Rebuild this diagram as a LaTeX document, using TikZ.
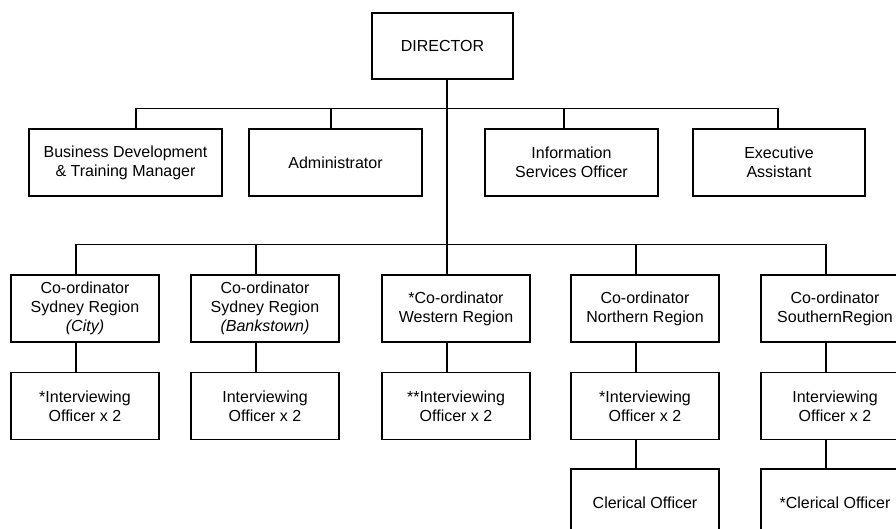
\documentclass[tikz,border=0pt]{standalone}
\usepackage{fontspec}
\setmainfont{Liberation Sans}
\usetikzlibrary{positioning}

\tikzset{
  post/.style={draw, line width=1.3pt, align=center, inner sep=0pt,
    font=\fontsize{16}{19}\selectfont},
  postw/.style={post, minimum width=148, minimum height=67},
  link/.style={line width=1.3pt}
}

\begin{document}
\begin{tikzpicture}[x=1pt,y=-1pt]
\useasboundingbox (0,0) rectangle (896,528);

% top
\node[post, minimum width=141, minimum height=66] (director) at (442.5,46) {DIRECTOR};

% staff row
\node[post, minimum width=193, minimum height=67] (bdtm) at (125.5,162.5) {Business Development\\\& Training Manager};
\node[post, minimum width=173, minimum height=67] (admin) at (335.5,162.5) {Administrator};
\node[post, minimum width=173, minimum height=67] (iso) at (571.5,162.5) {Information\\Services Officer};
\node[post, minimum width=172, minimum height=67] (exec) at (779,162.5) {Executive\\Assistant};

% co-ordinators
\node[postw] (co1) at (85,308.5) {Co-ordinator\\Sydney Region\\\textit{(City)}};
\node[postw] (co2) at (265,308.5) {Co-ordinator\\Sydney Region\\\textit{(Bankstown)}};
\node[postw] (co3) at (456,308.5) {*Co-ordinator\\Western Region};
\node[postw] (co4) at (645,308.5) {Co-ordinator\\Northern Region};
\node[postw] (co5) at (835,308.5) {Co-ordinator\\SouthernRegion};

% interviewing officers
\node[postw] (io1) at (85,406) {*Interviewing\\Officer x 2};
\node[postw] (io2) at (265,406) {Interviewing\\Officer x 2};
\node[postw] (io3) at (456,406) {**Interviewing\\Officer x 2};
\node[postw] (io4) at (645,406) {*Interviewing\\Officer x 2};
\node[postw] (io5) at (835,406) {Interviewing\\Officer x 2};

% clerical
\node[postw] (cl4) at (645,502.5) {Clerical Officer};
\node[postw] (cl5) at (835,502.5) {*Clerical Officer};

% connectors
\draw[link] ([xshift=4.5]director.south) -- ([xshift=-9]co3.north);
\draw[link] ([xshift=10.5]bdtm.north) -- ++(0,-20) -| ([xshift=-1]exec.north);
\draw[link] ([xshift=-4.5]admin.north) -- ++(0,-20);
\draw[link] ([xshift=-7.5]iso.north) -- ++(0,-20);
\draw[link] ([xshift=-9]co1.north) -- ++(0,-30) -| ([xshift=-9]co5.north);
\foreach \n in {co2,co4}
  \draw[link] ([xshift=-9]\n.north) -- ++(0,-30);
\foreach \i in {1,...,5}
  \draw[link] ([xshift=-9]co\i.south) -- ([xshift=-9]io\i.north);
\draw[link] ([xshift=-9]io4.south) -- ([xshift=-9]cl4.north);
\draw[link] ([xshift=-9]io5.south) -- ([xshift=-9]cl5.north);
\end{tikzpicture}
\end{document}
